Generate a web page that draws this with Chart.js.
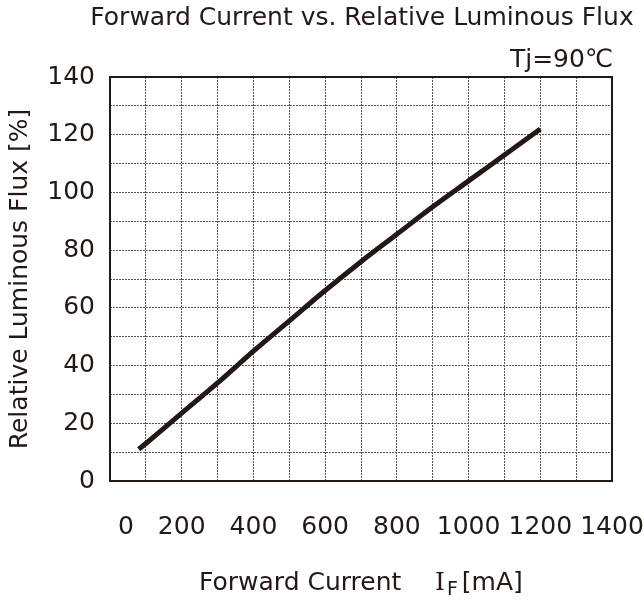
<!DOCTYPE html>
<html>
<head>
<meta charset="utf-8">
<script src="https://cdn.jsdelivr.net/npm/chart.js@4.4.1/dist/chart.umd.min.js"></script>
<style>
  html, body { margin: 0; padding: 0; background: #fff; }
  #wrap { width: 644px; height: 608px; }
</style>
</head>
<body>
<div id="wrap"><canvas id="flux" width="644" height="608"></canvas></div>
<script>
// Forward current vs relative luminous flux, Tj = 90 C
const currentMA = [80, 100, 200, 300, 400, 500, 600, 700, 800, 900, 1000, 1100, 1200];
const fluxPct   = [11, 13, 23.5, 34, 45, 55.5, 66, 76, 85.5, 95, 104, 113, 122];
const xLabeled  = [0, 200, 400, 600, 800, 1000, 1200, 1400];
const yLabeled  = [0, 20, 40, 60, 80, 100, 120, 140];

const FONT = 'DejaVu Sans, sans-serif';
const INK = '#231815';

// frame + titles drawn on top of the chart
const frameAndTitles = {
  id: 'frameAndTitles',
  afterDraw(chart) {
    const { ctx, chartArea: a } = chart;
    ctx.save();
    ctx.strokeStyle = INK;
    ctx.lineWidth = 2;
    ctx.strokeRect(a.left, a.top, a.right - a.left, a.bottom - a.top);

    ctx.fillStyle = INK;
    ctx.textBaseline = 'middle';
    ctx.font = '25px ' + FONT;
    ctx.textAlign = 'center';
    ctx.fillText('Forward Current vs. Relative Luminous Flux', 362, 18);
    ctx.textAlign = 'right';
    ctx.fillText('Tj=90\u2103', 613, 60);

    // x axis title with subscript F
    ctx.textAlign = 'left';
    ctx.fillText('Forward Current', 199, 583);
    let x = 435;
    ctx.font = '25px DejaVu Serif, serif';
    ctx.fillText('I', x, 583);
    x += ctx.measureText('I').width + 2;
    ctx.font = '19px ' + FONT;
    ctx.fillText('F', x, 590);
    x += ctx.measureText('F').width + 4;
    ctx.font = '25px ' + FONT;
    ctx.fillText('[mA]', x, 583);
    ctx.restore();
  }
};

new Chart(document.getElementById('flux'), {
  type: 'scatter',
  data: {
    datasets: [{
      data: currentMA.map((c, i) => ({ x: c, y: fluxPct[i] })),
      showLine: true,
      borderColor: INK,
      borderWidth: 5,
      borderCapStyle: 'butt',
      tension: 0.3,
      pointRadius: 0
    }]
  },
  options: {
    responsive: false,
    animation: false,
    layout: { padding: { left: 0, right: 32, top: 77, bottom: 0 } },
    plugins: { legend: { display: false }, tooltip: { enabled: false } },
    scales: {
      x: {
        type: 'linear', min: 0, max: 1400,
        afterFit: s => { s.height = 127; s.paddingLeft = 0; s.paddingRight = 0; },
        grid: { color: '#555', lineWidth: 1, drawTicks: false },
        border: { display: false, dash: [2, 1] },
        ticks: {
          stepSize: 100, padding: 31, color: INK, font: { family: FONT, size: 25 },
          maxRotation: 0, autoSkip: false,
          // the zero label sits a little right of the corner, as in the original
          callback: v => v === 0 ? '    0' : (xLabeled.includes(v) ? String(v) : '')
        }
      },
      y: {
        min: 0, max: 140,
        afterFit: s => { s.width = 110; s.paddingTop = 0; s.paddingBottom = 0; },
        grid: { color: '#555', lineWidth: 1, drawTicks: false },
        border: { display: false, dash: [2, 1] },
        title: { display: true, text: 'Relative Luminous Flux [%]', color: INK,
                 font: { family: FONT, size: 25 }, padding: { top: 5, bottom: 0 } },
        ticks: {
          stepSize: 10, padding: 15, color: INK, font: { family: FONT, size: 25 },
          autoSkip: false,
          callback: v => yLabeled.includes(v) ? String(v) : ''
        }
      }
    }
  },
  plugins: [frameAndTitles]
});
</script>
</body>
</html>
